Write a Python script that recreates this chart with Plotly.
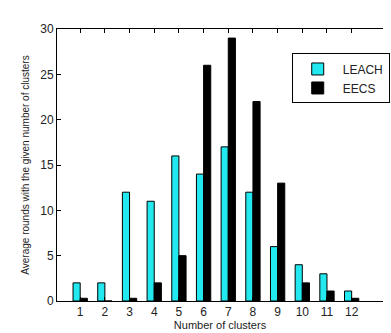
import plotly.graph_objects as go

clusters = [1, 2, 3, 4, 5, 6, 7, 8, 9, 10, 11, 12]
leach = [2, 2, 12, 11, 16, 14, 17, 12, 6, 4, 3, 1.1]
eecs = [0.3, 0, 0.3, 2, 5, 26, 29, 22, 13, 2, 1.1, 0.3]
y_ticks = [0, 5, 10, 15, 20, 25, 30]

fig = go.Figure()
fig.add_trace(go.Bar(x=clusters, y=leach, name="LEACH",
                     marker=dict(color="#22E8F0", line=dict(color="black", width=1))))
fig.add_trace(go.Bar(x=clusters, y=eecs, name="EECS",
                     marker=dict(color="black", line=dict(color="black", width=1))))

font_family = "Liberation Sans, Arial, sans-serif"
fig.update_layout(
    width=391, height=333,
    margin=dict(l=57, r=8, t=29, b=32, autoexpand=False),
    paper_bgcolor="white", plot_bgcolor="white",
    barmode="group", bargap=0.42, bargroupgap=0.0,
    font=dict(family=font_family, size=12, color="#222"),
    showlegend=True,
    legend=dict(x=0.72, y=0.91, xanchor="left", yanchor="top",
                bordercolor="black", borderwidth=1, bgcolor="white",
                font=dict(size=12, color="#222"),
                tracegroupgap=0, itemwidth=40),
    xaxis=dict(range=[0.06, 13.27], tickmode="array", tickvals=clusters,
               ticktext=[str(c) for c in clusters],
               ticks="inside", ticklen=4, tickcolor="black",
               showline=True, linecolor="black", linewidth=1, mirror="ticks",
               showgrid=False, zeroline=False,
               title=dict(text="Number of clusters", font=dict(size=11), standoff=0)),
    yaxis=dict(range=[0, 30], tickmode="array", tickvals=y_ticks,
               ticks="inside", ticklen=4, tickcolor="black",
               showline=True, linecolor="black", linewidth=1,
               showgrid=False, zeroline=False,
               title=dict(text="Average rounds with the given number of clusters",
                          font=dict(size=10), standoff=8)),
)

js = ("var s=document.createElement('style');"
      "s.textContent='html,body{margin:0;padding:0;overflow:hidden;}"
      ".plotly-graph-div{display:block;}';"
      "document.head.appendChild(s);")
fig.write_html("out.html", config={"displayModeBar": False}, post_script=js)
